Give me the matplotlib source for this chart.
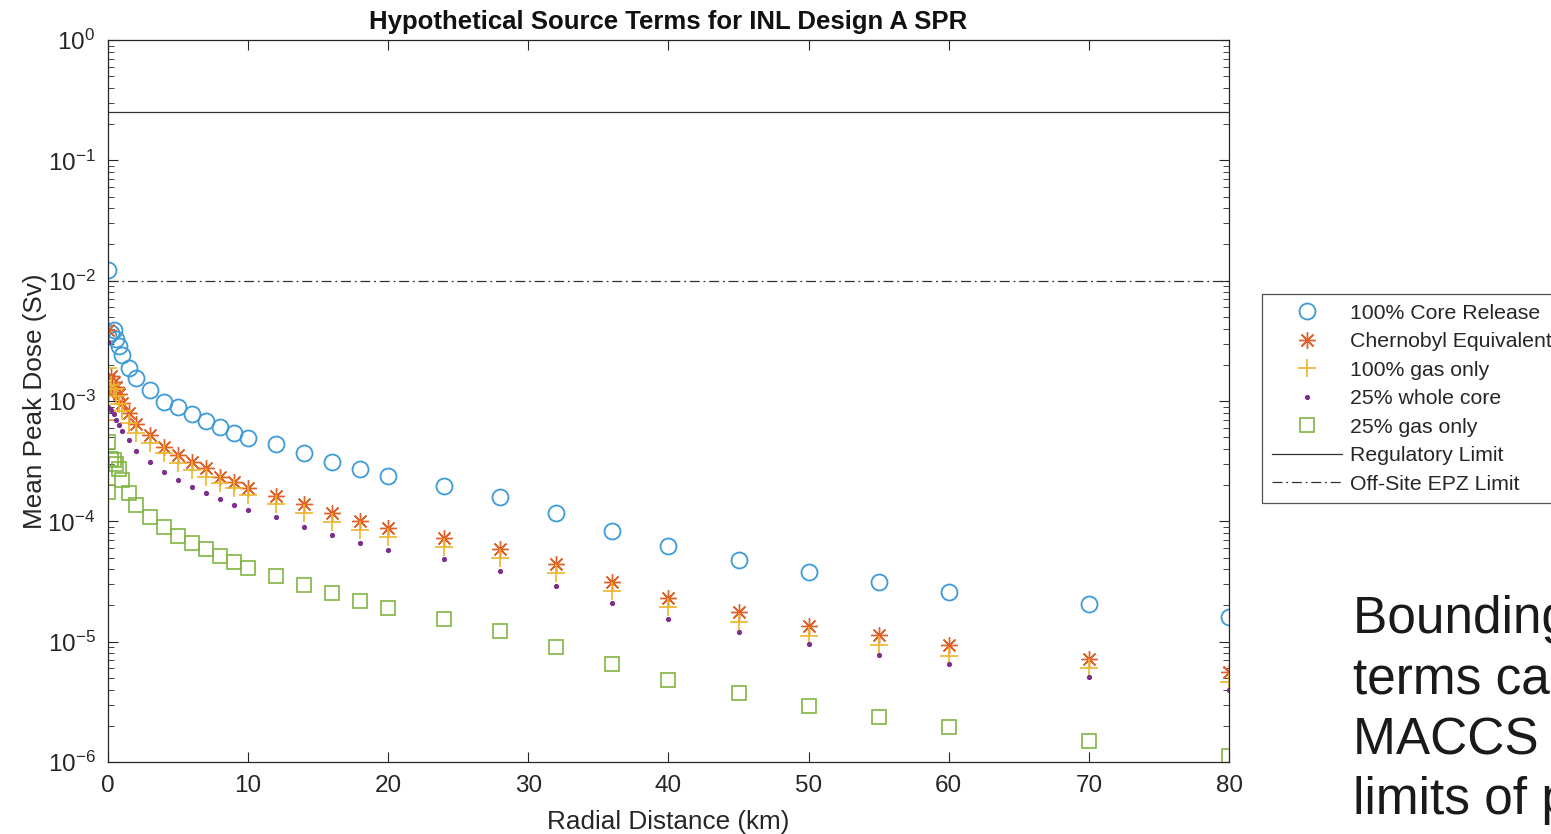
import numpy as np
import matplotlib
matplotlib.use("Agg")
import matplotlib.pyplot as plt
from matplotlib.ticker import LogLocator, NullFormatter

plt.rcParams['font.family'] = ['Liberation Sans', 'DejaVu Sans']
plt.rcParams['mathtext.default'] = 'regular'

# radial distances (km); 0 appears twice in the source data
distance = [0, 0, 0.2, 0.4, 0.6, 0.8, 1.0, 1.5, 2, 3, 4, 5, 6, 7, 8, 9, 10,
            12, 14, 16, 18, 20, 24, 28, 32, 36, 40, 45, 50, 55, 60, 70, 80]

core_100 = [1.23e-2, 3.5e-3, 3.7e-3, 3.9e-3, 3.3e-3, 2.85e-3, 2.41e-3, 1.88e-3, 1.55e-3,
            1.23e-3, 9.86e-4, 8.9e-4, 7.8e-4, 6.82e-4, 6.11e-4, 5.45e-4, 4.96e-4,
            4.39e-4, 3.70e-4, 3.14e-4, 2.72e-4, 2.36e-4, 1.95e-4, 1.58e-4, 1.18e-4,
            8.39e-5, 6.24e-5, 4.82e-5, 3.83e-5, 3.13e-5, 2.61e-5, 2.06e-5, 1.59e-5]
chernobyl = [3.9e-3, 1.2e-3, 1.6e-3, 1.45e-3, 1.3e-3, 1.15e-3, 9.6e-4, 7.94e-4, 6.44e-4,
             5.21e-4, 4.15e-4, 3.56e-4, 3.11e-4, 2.77e-4, 2.33e-4, 2.12e-4, 1.89e-4,
             1.62e-4, 1.39e-4, 1.17e-4, 1.01e-4, 8.8e-5, 7.26e-5, 5.89e-5, 4.42e-5,
             3.13e-5, 2.31e-5, 1.76e-5, 1.35e-5, 1.14e-5, 9.4e-6, 7.2e-6, 5.6e-6]
gas_100 = [1.87e-3, 7.0e-4, 1.35e-3, 1.25e-3, 1.1e-3, 9.5e-4, 8.2e-4, 6.56e-4, 5.42e-4,
           4.48e-4, 3.70e-4, 3.05e-4, 2.67e-4, 2.34e-4, 2.08e-4, 1.89e-4, 1.65e-4,
           1.39e-4, 1.17e-4, 9.9e-5, 8.5e-5, 7.4e-5, 6.1e-5, 4.96e-5, 3.72e-5,
           2.64e-5, 1.94e-5, 1.46e-5, 1.11e-5, 9.4e-6, 7.6e-6, 6.0e-6, 4.6e-6]
whole_25 = [3.1e-3, 9.0e-4, 8.5e-4, 7.8e-4, 7.0e-4, 6.3e-4, 5.6e-4, 4.74e-4, 3.84e-4,
            3.11e-4, 2.57e-4, 2.20e-4, 1.93e-4, 1.72e-4, 1.53e-4, 1.37e-4, 1.24e-4,
            1.09e-4, 8.97e-5, 7.7e-5, 6.6e-5, 5.8e-5, 4.86e-5, 3.87e-5, 2.90e-5,
            2.10e-5, 1.54e-5, 1.20e-5, 9.6e-6, 7.7e-6, 6.5e-6, 5.1e-6, 3.96e-6]
gas_25 = [4.6e-4, 1.77e-4, 3.3e-4, 3.25e-4, 3.0e-4, 2.7e-4, 2.2e-4, 1.72e-4, 1.37e-4,
          1.09e-4, 8.97e-5, 7.55e-5, 6.6e-5, 5.89e-5, 5.15e-5, 4.59e-5, 4.09e-5,
          3.51e-5, 2.96e-5, 2.54e-5, 2.18e-5, 1.90e-5, 1.54e-5, 1.22e-5, 9.0e-6,
          6.5e-6, 4.8e-6, 3.74e-6, 2.92e-6, 2.36e-6, 1.95e-6, 1.49e-6, 1.12e-6]

regulatory_limit = 0.25
epz_limit = 0.01

fig = plt.figure(figsize=(15.51, 8.34), dpi=100)
ax = fig.add_axes([0.0696, 0.0863, 0.7228, 0.8657])

ax.plot(distance, core_100, "o", mfc="none", mec="#3d9ad8", mew=1.3, ms=11.5,
        label="100% Core Release")
ax.plot(distance, chernobyl, ls="none", marker=(8, 2, 0), color="#e0622a", mew=1.0,
        ms=12, label="Chernobyl Equivalent")
ax.plot(distance, gas_100, "+", color="#efb52a", mew=1.2, ms=13, label="100% gas only")
ax.plot(distance, whole_25, ".", color="#7e2f8e", ms=5.5, label="25% whole core")
ax.plot(distance, gas_25, "s", mfc="none", mec="#80b544", mew=1.2, ms=10,
        label="25% gas only")
ax.axhline(regulatory_limit, color="#333333", lw=0.9, label="Regulatory Limit")
ax.axhline(epz_limit, color="#333333", lw=0.9, ls=(0, (8, 3, 1.5, 3)),
           label="Off-Site EPZ Limit")

ax.set_yscale("log")
ax.set_xlim(0, 80)
ax.set_ylim(1e-6, 1)
ax.set_xticks(range(0, 81, 10))
ax.yaxis.set_major_locator(LogLocator(base=10, numticks=10))
ax.yaxis.set_minor_locator(LogLocator(base=10, subs=np.arange(2, 10), numticks=20))
ax.yaxis.set_minor_formatter(NullFormatter())

for s in ax.spines.values():
    s.set_color("#262626")
    s.set_linewidth(0.9)
ax.tick_params(which="both", direction="in", top=True, right=True, colors="#262626",
               labelsize=17.5, labelcolor="#262626")
ax.tick_params(which="major", length=7, pad=9)
ax.tick_params(which="minor", length=4)

ax.set_xlabel("Radial Distance (km)", fontsize=18.8, color="#262626", labelpad=10)
ax.set_ylabel("Mean Peak Dose (Sv)", fontsize=18.8, color="#262626", labelpad=0)
ax.set_title("Hypothetical Source Terms for INL Design A SPR", fontsize=18.5,
             fontweight="bold", color="#111111", pad=8)

leg = ax.legend(loc="upper left", bbox_to_anchor=(0.8137, 0.6475),
                bbox_transform=fig.transFigure, borderaxespad=0, fontsize=15.3,
                frameon=True, fancybox=False, edgecolor="#262626", handlelength=3.3,
                labelspacing=0.45, handletextpad=0.4, borderpad=0.45)
leg.get_frame().set_linewidth(0.9)
for t in leg.get_texts():
    t.set_color("#262626")

fig.text(0.8724, 0.2866, "Bounding source\nterms calculated with\nMACCS are below\nlimits of public",
         fontsize=37, color="#1a1a1a", ha="left", va="top", linespacing=1.3)

fig.savefig("out.png", dpi=100)
